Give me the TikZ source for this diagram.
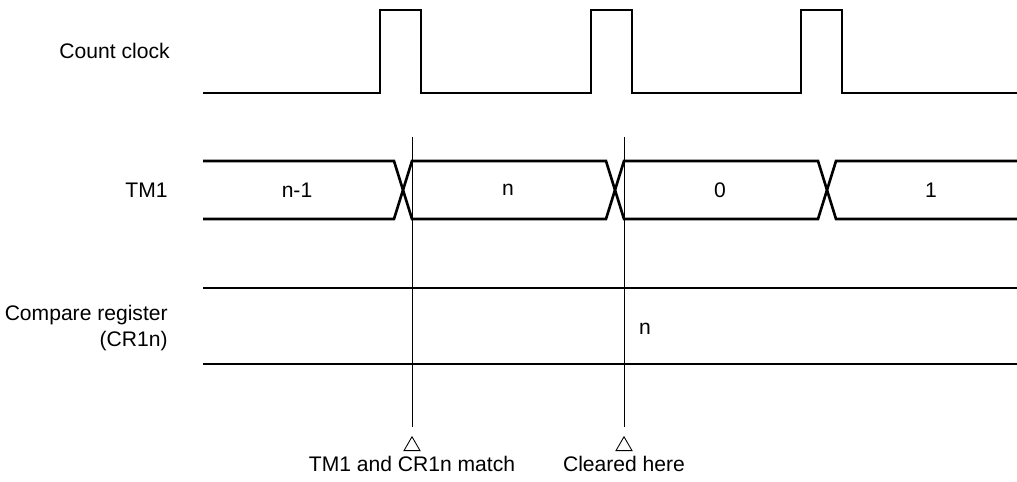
\documentclass[tikz,border=0pt]{standalone}
\usepackage{fontspec}
\setmainfont{Liberation Sans}
\usepackage{tikz}
\usetikzlibrary{positioning,shapes.geometric}
\tikzset{
  sigline/.style={line width=1.5pt, line join=miter},
  markline/.style={line width=0.5pt},
  siglabel/.style={anchor=east, align=right, inner sep=0pt},
  valtext/.style={inner sep=0pt},
  marktri/.style={draw, regular polygon, regular polygon sides=3, minimum size=0.37cm, inner sep=0pt, line width=0.5pt},
  notetext/.style={inner sep=0pt}
}

\begin{document}
\begin{tikzpicture}[x=0.02cm, y=-0.02cm, every node/.style={font=\fontsize{12}{14.5}\selectfont}]
  \useasboundingbox (0,0) rectangle (1017,482);

  % signal names
  \node[siglabel] (lclk) at (170,51) {Count clock};
  \node[siglabel] (ltm) at (168,190) {TM1};
  \node[siglabel] (lcr) at (168,328) {Compare register\\(CR1n)};

  % count clock
  \draw[sigline] (203,93) -- (380,93) -- (380,10) -- (421,10) -- (421,93)
    -- (591,93) -- (591,10) -- (632,10) -- (632,93)
    -- (801,93) -- (801,10) -- (842,10) -- (842,93) -- (1017,93);

  % TM1 bus
  \draw[sigline] (203,161) -- (394,161) -- (412,219) -- (606,219) -- (624,161)
    -- (818,161) -- (836,219) -- (1017,219);
  \draw[sigline] (203,219) -- (394,219) -- (412,161) -- (606,161) -- (624,219)
    -- (818,219) -- (836,161) -- (1017,161);
  \node[valtext] (v1) at (297,190) {n-1};
  \node[valtext] (v2) at (508,190) {n};
  \node[valtext] (v3) at (720,190) {0};
  \node[valtext] (v4) at (931,190) {1};

  % compare register
  \draw[sigline] (203,288) -- (1017,288);
  \draw[sigline] (203,364) -- (1017,364);
  \node[valtext] (vcr) at (645,329) {n};

  % markers
  \coordinate (m1top) at (412,137);
  \coordinate (m1bot) at (412,427);
  \coordinate (m2top) at (624,137);
  \coordinate (m2bot) at (624,427);
  \draw[markline] (m1top) -- (m1bot);
  \draw[markline] (m2top) -- (m2bot);
  \node[marktri] (tri1) at (412,446) {};
  \node[marktri] (tri2) at (624,446) {};
  \node[notetext, below=0.1cm of tri1] (note1) {TM1 and CR1n match};
  \node[notetext, below=0.1cm of tri2] (note2) {Cleared here};
\end{tikzpicture}
\end{document}
